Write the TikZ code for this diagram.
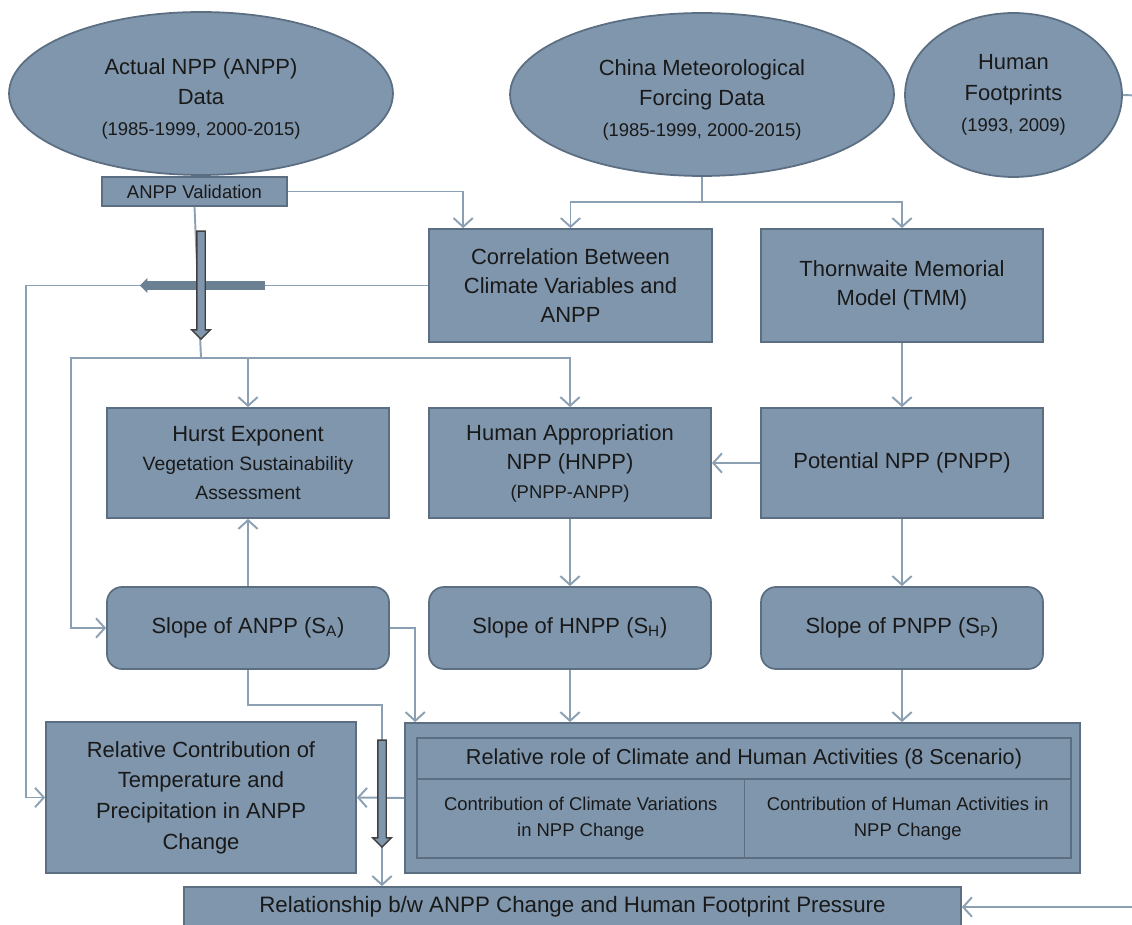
\documentclass[tikz,border=0pt]{standalone}
\usepackage{fontspec}
\setmainfont{Liberation Sans}
\usetikzlibrary{shapes.geometric}
\usetikzlibrary{shapes.arrows}
\usetikzlibrary{arrows.meta}
\definecolor{relleno}{RGB}{127,150,173}
\definecolor{borde}{RGB}{92,110,130}
\definecolor{trazo}{RGB}{140,160,180}
\newcommand{\tam}[2]{\fontsize{#1}{#2}\selectfont}

\begin{document}
\begin{tikzpicture}[x=0.02cm, y=-0.02cm]
      % Definimos algunos estilos
      \tikzstyle{caja}=[
        draw=borde,
        fill=relleno,
        line width=1pt,
        align=center,
        inner sep=1pt,
        text=black!90,
        font=\tam{12.5}{16.5}
      ]
      % datos de entrada
      \tikzstyle{elipse}=[caja, ellipse, font=\tam{12.5}{17.5}]
      % cajas de pendiente (esquinas redondeadas)
      \tikzstyle{pendiente}=[caja, rounded corners=0.3cm]
      % conectores finos
      \tikzstyle{conector}=[draw=trazo, line width=1.1pt]
      \tikzstyle{flecha}=[conector, -{Straight Barb[length=5pt, width=11pt]}]
      % flechas gruesas de bloque
      \tikzstyle{bloque}=[
        single arrow,
        draw=black!75,
        fill=relleno,
        line width=0.8pt,
        minimum width=0.3cm,
        single arrow head extend=0.1cm,
        inner sep=0.07cm
      ]

      \useasboundingbox (0,0) rectangle (1132,925);
      \clip (0,0) rectangle (1132,925);

      % fila de datos
      \node[elipse, minimum width=7.68cm, minimum height=3.26cm] (anpp) at (201,93.5)
        {\rule{0pt}{15pt}Actual NPP (ANPP)\\Data\\{\tam{10.5}{14}(1985-1999, 2000-2015)}};
      \node[caja, minimum width=3.7cm, minimum height=0.58cm, font=\tam{10.5}{12}] (valid) at (194.5,191.5) {ANPP Validation};
      \node[elipse, minimum width=7.68cm, minimum height=3.26cm] (china) at (702,94.5)
        {\rule{0pt}{15pt}China Meteorological\\Forcing Data\\{\tam{10.5}{14}(1985-1999, 2000-2015)}};
      \node[elipse, minimum width=4.34cm, minimum height=3.28cm] (human) at (1013.5,95)
        {Human\\Footprints\\{\tam{10.5}{14}(1993, 2009)}};

      % segunda fila
      \node[caja, minimum width=5.66cm, minimum height=2.26cm] (correl) at (570.5,285.5)
        {Correlation Between\\Climate Variables and\\ANPP};
      \node[caja, minimum width=5.64cm, minimum height=2.26cm] (tmm) at (902,285.5)
        {Thornwaite Memorial\\Model (TMM)};

      % tercera fila
      \node[caja, minimum width=5.64cm, minimum height=2.2cm] (hurst) at (248,463)
        {Hurst Exponent\\{\tam{11}{14}Vegetation Sustainability}\\{\tam{11}{14}Assessment}};
      \node[caja, minimum width=5.64cm, minimum height=2.2cm] (hnpp) at (570,463)
        {Human Appropriation\\NPP (HNPP)\\{\tam{10.5}{15}(PNPP-ANPP)}};
      \node[caja, minimum width=5.64cm, minimum height=2.2cm] (pnpp) at (902,463) {Potential NPP (PNPP)};

      % pendientes
      \node[pendiente, minimum width=5.64cm, minimum height=1.64cm] (slopeA) at (248,628) {Slope of ANPP (S\textsubscript{A})};
      \node[pendiente, minimum width=5.64cm, minimum height=1.64cm] (slopeH) at (570,628) {Slope of HNPP (S\textsubscript{H})};
      \node[pendiente, minimum width=5.64cm, minimum height=1.64cm] (slopeP) at (902,628) {Slope of PNPP (S\textsubscript{P})};

      % contribuciones
      \node[caja, minimum width=6.2cm, minimum height=3.02cm, font=\tam{12.5}{17.5}] (relcont) at (201,797.5)
        {Relative Contribution of\\Temperature and\\Precipitation in ANPP\\Change};
      \node[caja, minimum width=13.5cm, minimum height=3.0cm] (rol) at (742.5,798) {};
      \node[caja, minimum width=13.08cm, minimum height=0.82cm, font=\tam{12.3}{14}] (cabecera) at (744,758.5)
        {Relative role of Climate and Human Activities (8 Scenario)};
      \node[caja, minimum width=6.55cm, minimum height=1.58cm, font=\tam{10.5}{15}] (celdaC) at (580.75,818.5)
        {Contribution of Climate Variations\\in NPP Change};
      \node[caja, minimum width=6.53cm, minimum height=1.58cm, font=\tam{10.5}{15}] (celdaH) at (907.75,818.5)
        {Contribution of Human Activities in\\NPP Change};

      % relacion final
      \node[caja, minimum width=15.54cm, minimum height=0.8cm, font=\tam{12.7}{15}] (relac) at (572.5,907)
        {Relationship b/w ANPP Change and Human Footprint Pressure};

      % puntos de quiebre
      \coordinate (bif) at (702,202);
      \coordinate (izq) at (26,285.5);
      \coordinate (nudo) at (201,358);
      \coordinate (nudoizq) at (71,358);
      \coordinate (codo) at (382,705);
      \coordinate (derA) at (1150,96);
      \coordinate (derB) at (1150,907);

      % validacion -> correlacion
      \draw[flecha] (valid.east) -| ([xshift=0.7cm]correl.north west);
      % datos climaticos
      \draw[conector] (china.south) -- (bif);
      \draw[flecha] (bif) -| (correl.north);
      \draw[flecha] (bif) -| (tmm.north);
      % correlacion -> contribucion relativa
      \draw[flecha] (correl.west) -- (izq) |- (relcont.west);
      % ANPP validado
      \draw[conector] (valid.south) -- (nudo);
      \draw[flecha] (nudo) -| (hurst.north);
      \draw[flecha] (nudo) -| (hnpp.north);
      \draw[flecha] (nudo) -- (nudoizq) |- (slopeA.west);
      % modelo TMM
      \draw[flecha] (tmm.south) -- (pnpp.north);
      \draw[flecha] (pnpp.west) -- (hnpp.east);
      \draw[flecha] (hnpp.south) -- (slopeH.north);
      \draw[flecha] (pnpp.south) -- (slopeP.north);
      \draw[flecha] (slopeA.north) -- (hurst.south);
      % pendientes -> rol relativo
      \draw[flecha] (slopeA.east) -| ([xshift=0.22cm]rol.north west);
      \draw[flecha] (slopeH.south) -- (slopeH.south |- rol.north);
      \draw[flecha] (slopeP.south) -- (slopeP.south |- rol.north);
      \draw[flecha] (slopeA.south) |- (codo) -- (codo |- relac.north);
      \draw[flecha] (rol.west) -- (relcont.east);
      % huella humana
      \draw[flecha] (human.east) -- (derA) -- (derB) -- (relac.east);

      % flechas gruesas
      \node[bloque, draw=none, fill=relleno!85!black, inner sep=0.06cm, single arrow head extend=0.05cm,
            minimum height=2.5cm, rotate=180] (gruesaH) at (204.5,285.5) {};
      \node[bloque, minimum height=2.16cm, rotate=-90] (gruesaV) at (201,283) {};
      \node[bloque, minimum height=2.14cm, rotate=-90] (gruesaB) at (382,791.5) {};
\end{tikzpicture}
\end{document}
